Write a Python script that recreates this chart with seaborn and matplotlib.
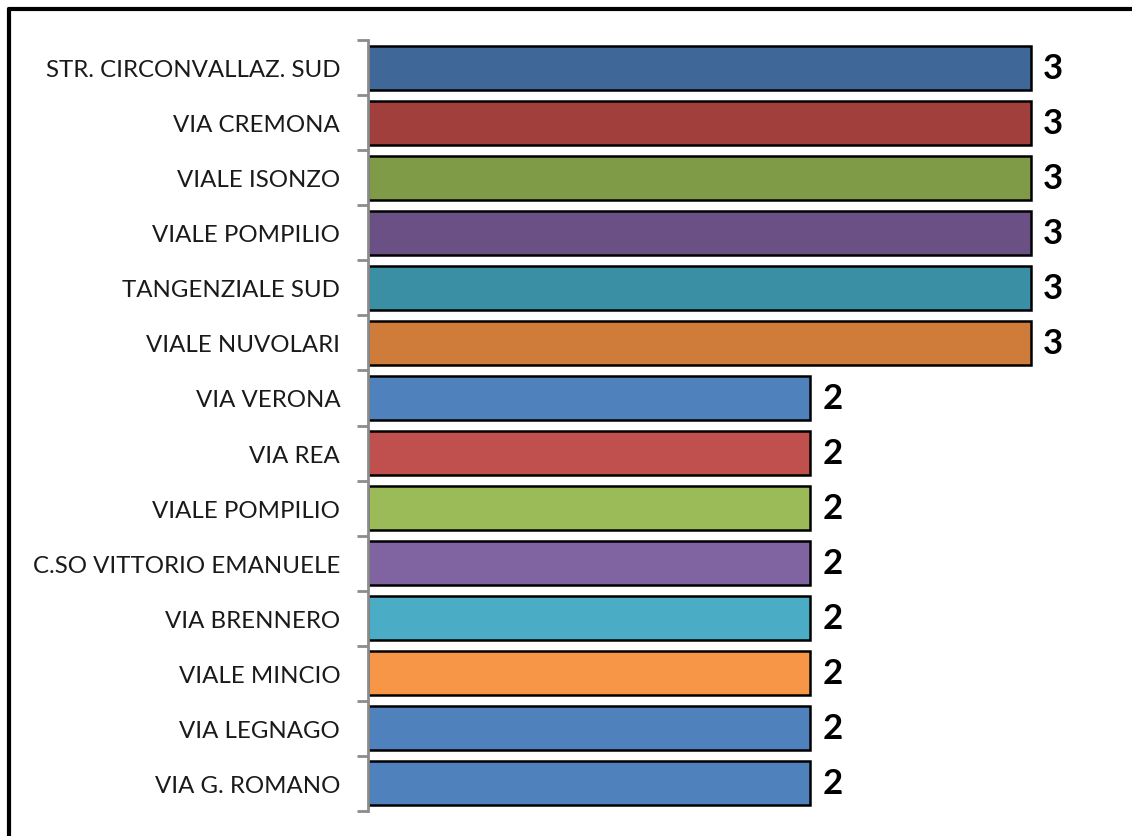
import matplotlib
matplotlib.use("Agg")
import matplotlib.pyplot as plt
from matplotlib.lines import Line2D
import seaborn as sns
import pandas as pd
import numpy as np

# Streets and their counts, top to bottom
streets = [
    "STR. CIRCONVALLAZ. SUD",
    "VIA CREMONA",
    "VIALE ISONZO",
    "VIALE POMPILIO",
    "TANGENZIALE SUD",
    "VIALE NUVOLARI",
    "VIA VERONA",
    "VIA REA",
    "VIALE POMPILIO",
    "C.SO VITTORIO EMANUELE",
    "VIA BRENNERO",
    "VIALE MINCIO",
    "VIA LEGNAGO",
    "VIA G. ROMANO",
]
counts = [3, 3, 3, 3, 3, 3, 2, 2, 2, 2, 2, 2, 2, 2]
bar_colors = [
    "#3F6797", "#A03F3C", "#7F9B48", "#6A5084", "#3B8FA5", "#CF7C3A",
    "#4F81BD", "#C0504D", "#9BBB59", "#8064A2", "#4BACC6", "#F79646",
    "#4F81BD", "#4F81BD",
]

sns.set_theme(style="white")
plt.rcParams["font.family"] = ["Lato", "DejaVu Sans"]

df = pd.DataFrame({
    "row": [str(i) for i in range(len(streets))],
    "street": streets,
    "count": counts,
})

fig = plt.figure(figsize=(11.32, 8.37), dpi=100)
ax = fig.add_axes([368 / 1132, 1 - 812 / 837, 751 / 1132, (812 - 41) / 837])

sns.barplot(
    data=df, x="count", y="row", hue="row", palette=bar_colors,
    orient="h", dodge=False, legend=False, width=0.8,
    edgecolor="black", linewidth=1.8, saturation=1, ax=ax,
)

ax.set_xlim(0, 3.4)
ax.set_ylim(len(streets) - 0.5, -0.5)
ax.set_xlabel("")
ax.set_ylabel("")
ax.set_xticks([])

# category labels at bar centres, tick marks between categories
ax.set_yticks(np.arange(len(streets)))
ax.set_yticklabels(streets, fontsize=17.3, color="#1a1a1a")
ax.tick_params(axis="y", which="major", length=0, pad=20)
ax.set_yticks(np.arange(-0.5, len(streets)), minor=True)
ax.tick_params(axis="y", which="minor", length=8, width=2, color="#8c8c8c", direction="out", left=True)

for side in ("top", "right", "bottom"):
    ax.spines[side].set_visible(False)
ax.spines["left"].set_color("#8c8c8c")
ax.spines["left"].set_linewidth(2)

for cont in ax.containers:
    ax.bar_label(cont, fmt="%d", padding=9, fontsize=25, fontweight="bold", color="black")

# outer frame along the top and left edges
fig.add_artist(Line2D([9 / 1132, 9 / 1132], [0, 1 - 10 / 837], transform=fig.transFigure,
                      color="black", linewidth=3))
fig.add_artist(Line2D([9 / 1132, 1], [1 - 10 / 837, 1 - 10 / 837], transform=fig.transFigure,
                      color="black", linewidth=3))

fig.savefig("out.png", dpi=100)
